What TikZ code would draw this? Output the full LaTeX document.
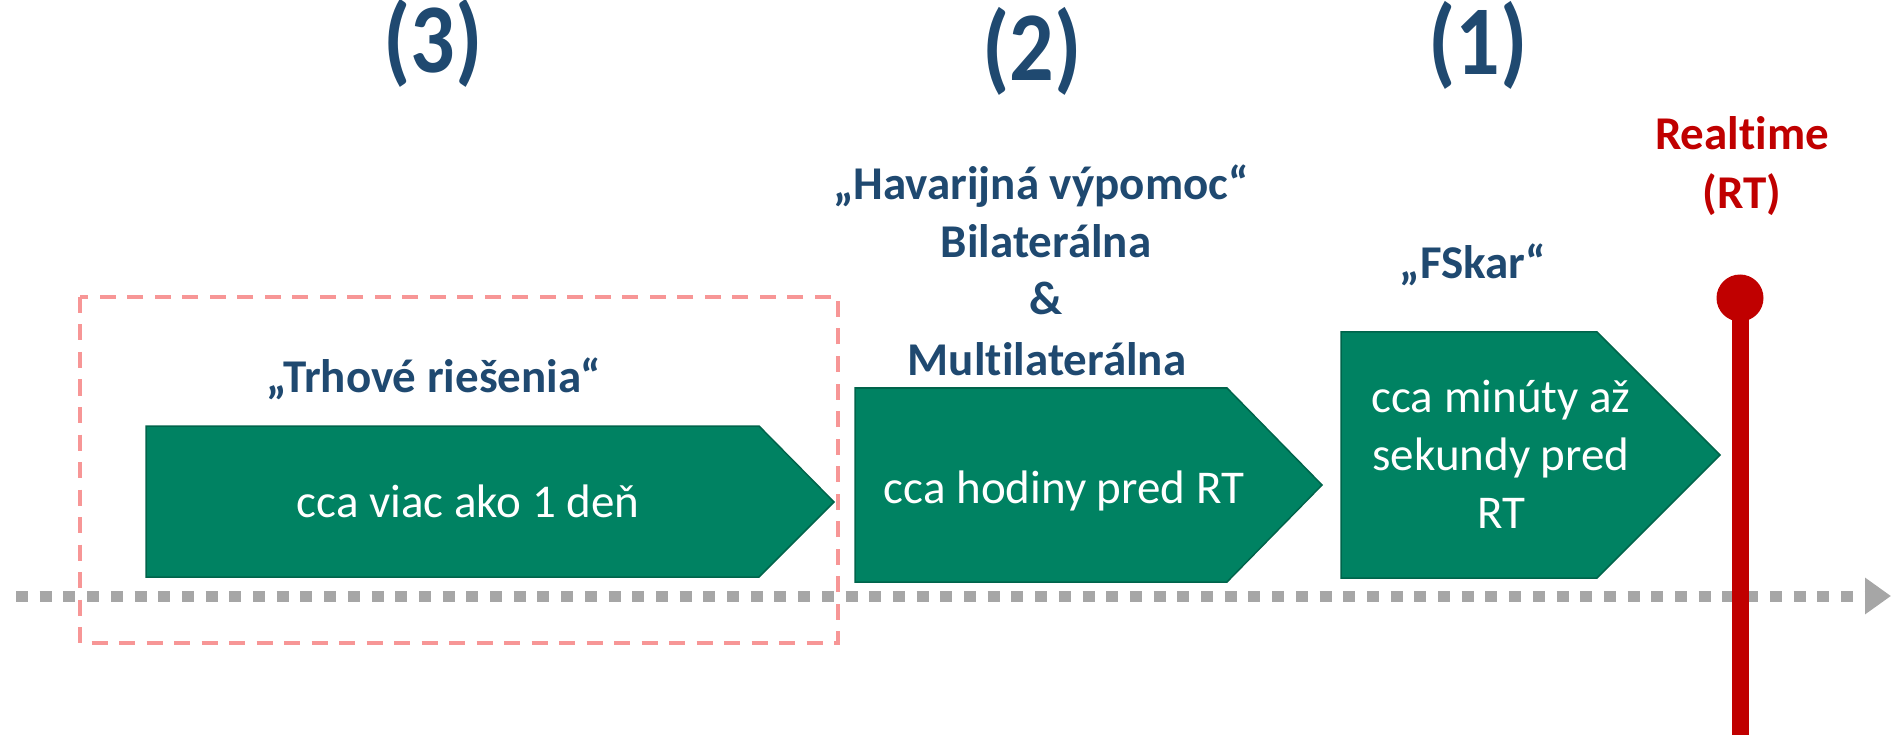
\documentclass[tikz,border=0pt]{standalone}
\usepackage{fontspec}
\setmainfont{Carlito}[Ligatures=NoCommon]
\usetikzlibrary{arrows.meta}

\definecolor{headblue}{RGB}{31,73,112}
\definecolor{boxgreen}{RGB}{0,130,98}
\definecolor{boxedge}{RGB}{0,100,75}
\definecolor{rtred}{RGB}{192,0,0}
\definecolor{marketpink}{RGB}{247,150,150}
\definecolor{axisgray}{RGB}{166,166,166}

\tikzset{
    phase/.style={anchor=base,inner sep=0pt,text=headblue,font=\fontsize{88}{96}\selectfont\bfseries},
    heading/.style={anchor=base,inner sep=0pt,text=headblue,font=\fontsize{47}{58}\selectfont\bfseries},
    rttext/.style={heading,text=rtred},
    boxtext/.style={anchor=base,inner sep=0pt,text=white,font=\fontsize{47}{58}\selectfont},
    chevron/.style={fill=boxgreen,draw=boxedge,line width=1.5pt},
    timeaxis/.style={axisgray,line width=11pt,dash pattern=on 12pt off 11.7pt,
            -{Triangle[length=26pt,width=35pt]}},
    marketframe/.style={marketpink,line width=3.5pt,dash pattern=on 16pt off 11.5pt},
    rtline/.style={rtred,line width=17pt}
}

\begin{document}
\begin{tikzpicture}[x=1pt,y=-1pt]
    \useasboundingbox (0,0) rectangle (1891,735);

    % time axis
    \coordinate (axisstart) at (16,596);
    \coordinate (axisend) at (1891,596);
    \draw[timeaxis] (axisstart) -- (axisend);

    % market solutions frame
    \draw[marketframe] (80,297) rectangle (838,643);

    % phases
    \draw[chevron] (146,426) -- (759,426) -- (834,502) -- (759,577) -- (146,577) -- cycle;
    \draw[chevron] (855,388) -- (1227,388) -- (1322,485) -- (1227,582) -- (855,582) -- cycle;
    \draw[chevron] (1341,332) -- (1597,332) -- (1720,455) -- (1597,578) -- (1341,578) -- cycle;

    \node[phase] (num3) at (433,73) {\scalebox{1}[1.12]{(3)}};
    \node[phase] (num2) at (1032,81) {\scalebox{1}[1.12]{(2)}};
    \node[phase] (num1) at (1478,75) {\scalebox{1}[1.12]{(1)}};

    \node[heading] (trhove) at (434,392) {„Trhové riešenia“};
    \node[heading] (havar) at (1041,200) {„Havarijná výpomoc“};
    \node[heading] (bilat) at (1046,258) {Bilaterálna};
    \node[heading] (amp) at (1046,315) {\&};
    \node[heading] (multi) at (1047,375) {Multilaterálna};
    \node[heading] (fskar) at (1473,279) {„FSkar“};

    \node[boxtext] (den) at (468,517) {cca viac ako 1 deň};
    \node[boxtext] (hodiny) at (1064,503) {cca hodiny pred RT};
    \node[boxtext] (minuty) at (1501,413) {cca minúty až};
    \node[boxtext] (sekundy) at (1501,470) {sekundy pred};
    \node[boxtext] (rtend) at (1501,528) {RT};

    % realtime marker
    \node[rttext] (realtime) at (1742,150) {Realtime};
    \node[rttext] (rtshort) at (1742,209) {(RT)};
    \node[circle,fill=rtred,inner sep=0pt,minimum size=47pt] (rtdot) at (1740,298) {};
    \coordinate (rtfoot) at (1740,740);
    \draw[rtline] (rtdot.center) -- (rtfoot);
\end{tikzpicture}
\end{document}
